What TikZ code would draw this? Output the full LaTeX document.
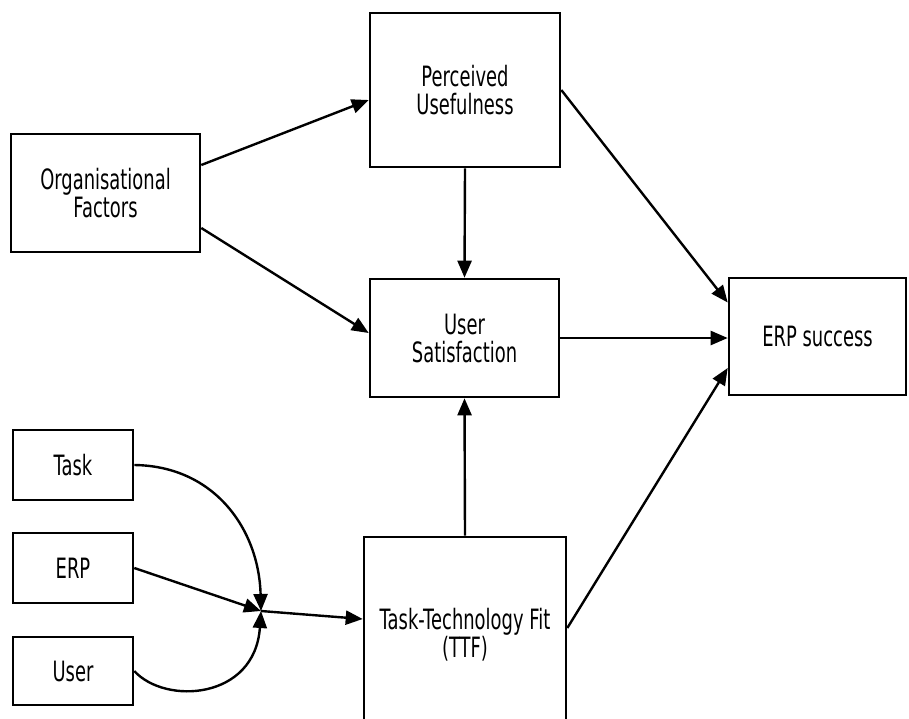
\documentclass[tikz,border=0pt]{standalone}
\usepackage{fontspec}
\setmainfont{DejaVu Sans}[FakeStretch=0.64]
\usetikzlibrary{arrows.meta}
\begin{document}
\begin{tikzpicture}[x=1pt,y=-1pt,
  box/.style={draw=black,line width=2.6pt,align=center,inner sep=0pt,
    font=\fontsize{28}{28}\selectfont},
  conn/.style={line width=2.4pt,-{Triangle[length=17pt,width=14pt]}}]
\useasboundingbox (0,0) rectangle (909,718);
\node[box,minimum width=189pt,minimum height=118pt] (org) at (105.5,193) {Organisational\\Factors};
\node[box,minimum width=190pt,minimum height=154pt] (pu) at (465,90) {Perceived\\Usefulness};
\node[box,minimum width=189pt,minimum height=118pt] (us) at (464.5,338) {User\\Satisfaction};
\node[box,minimum width=177pt,minimum height=117pt] (erp) at (817.5,336.5) {ERP success};
\node[box,minimum width=120pt,minimum height=70pt] (task) at (73,465) {Task};
\node[box,minimum width=120pt,minimum height=70pt] (erpin) at (73,568) {ERP};
\node[box,minimum width=120pt,minimum height=68pt] (user) at (73,671) {User};
\node[box,minimum width=202pt,minimum height=196pt] (ttf) at (465,635) {Task-Technology Fit\\(TTF)};
\coordinate (m) at (261,611);
% connectors
\draw[conn] ([yshift=28pt]org.east) -- ([yshift=-10pt]pu.west);
\draw[conn] ([yshift=-35pt]org.east) -- ([yshift=5pt]us.west);
\draw[conn] (pu.south) -- (us.north);
\draw[conn] (pu.east) -- ([yshift=34pt]erp.west);
\draw[conn] (us.east) -- (us.east -| erp.west);
\draw[conn] (ttf.north) -- (us.south);
\draw[conn] ([yshift=7pt]ttf.east) -- ([yshift=-31.5pt]erp.west);
% merge of Task, ERP, User
\draw[conn] (task.east) .. controls (215,466) and (259,530) .. (m);
\draw[conn] (erpin.east) -- (m);
\draw[conn] (user.east) .. controls (165,705) and (255,700) .. (m);
\draw[conn] (m) -- ([yshift=16pt]ttf.west);
\end{tikzpicture}
\end{document}
